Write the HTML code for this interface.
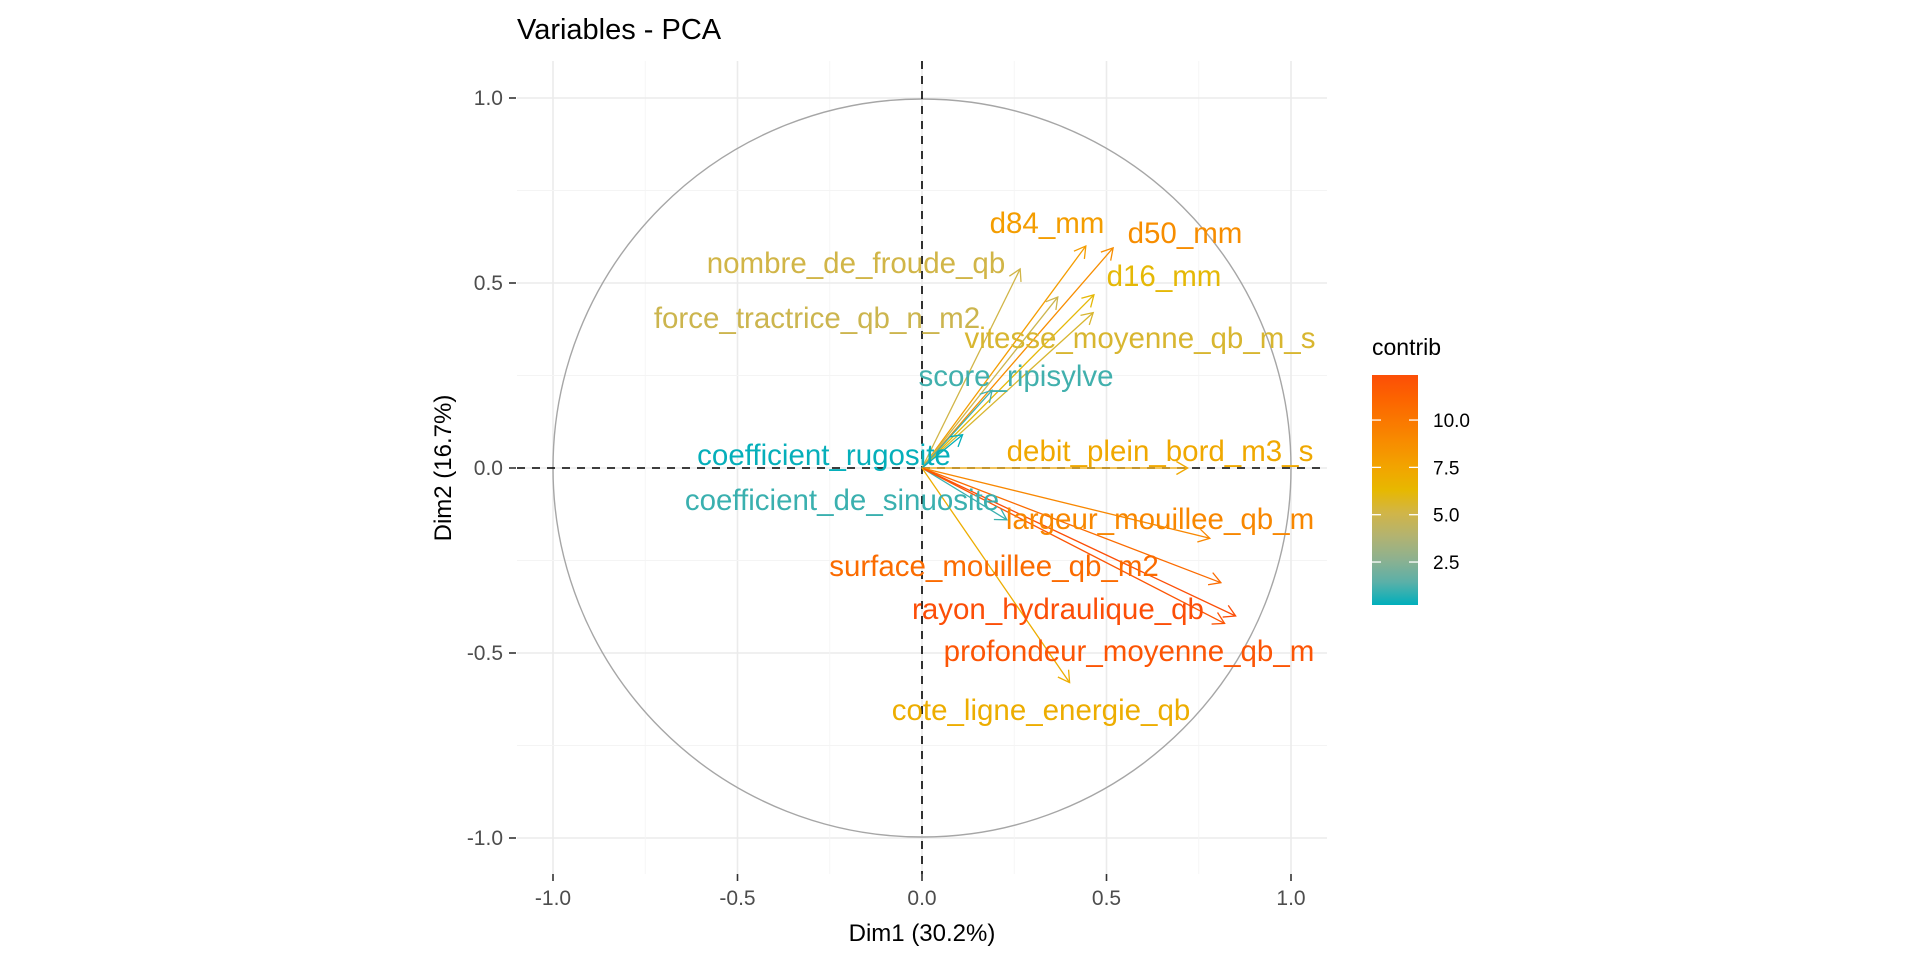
<!DOCTYPE html>
<html><head><meta charset="utf-8"><style>
html,body{margin:0;padding:0;background:#fff;}
svg{display:block;font-family:"Liberation Sans",Arial,sans-serif;}
</style></head><body>
<svg id="chart" width="1920" height="960" viewBox="0 0 1920 960"></svg>
<script>
const varNames=["d84_mm","d50_mm","d16_mm","nombre_de_froude_qb","force_tractrice_qb_n_m2","vitesse_moyenne_qb_m_s","score_ripisylve","coefficient_rugosite","debit_plein_bord_m3_s","coefficient_de_sinuosite","largeur_mouillee_qb_m","surface_mouillee_qb_m2","rayon_hydraulique_qb","profondeur_moyenne_qb_m","cote_ligne_energie_qb"];
const dim1=[0.444,0.518,0.466,0.266,0.368,0.464,0.19,0.11,0.72,0.23,0.78,0.81,0.85,0.82,0.40];
const dim2=[0.600,0.595,0.468,0.538,0.462,0.420,0.21,0.09,0.0,-0.14,-0.19,-0.31,-0.40,-0.42,-0.58];
const contrib=[7.9,8.8,6.2,5.1,4.9,5.5,1.1,0.3,7.3,1.0,9.1,10.7,12.5,12.0,7.0];
const labelX=[1047,1185,1164,856,817,1140,1016,824,1160,842,1160,994,1058,1129,1041];
const labelY=[223,233,276,263,318,338,376,455,451,500,519,566,609,651,710];
const axisTicks=[-1.0,-0.5,0.0,0.5,1.0];
const tickLabels=["-1.0","-0.5","0.0","0.5","1.0"];
const legendTicks=[2.5,5.0,7.5,10.0];
const legendTickLabels=["2.5","5.0","7.5","10.0"];
const cMin=0.23,cMax=12.38;

const NS="http://www.w3.org/2000/svg";
const svg=document.getElementById('chart');
const X0=922,Y0=468,SX=369,SY=370;
const panel={l:517,r:1327,t:61,b:874};
function sx(v){return X0+v*SX;}
function sy(v){return Y0-v*SY;}
function mk(tag,attrs,parent){const e=document.createElementNS(NS,tag);for(const k in attrs)e.setAttribute(k,attrs[k]);(parent||svg).appendChild(e);return e;}
function hex(h){return [parseInt(h.slice(1,3),16),parseInt(h.slice(3,5),16),parseInt(h.slice(5,7),16)];}
const gradStops=["#00AFBB","#5BB0A8","#8EB18F","#B3B370","#D1B548","#E7B800","#F2A400","#F78E00","#FA7800","#FC6300","#FC4E07"].map(hex);
function col(v){let t=(v-cMin)/(cMax-cMin);t=Math.max(0,Math.min(1,t));
 const n=gradStops.length-1;let k=Math.min(n-1,Math.floor(t*n));const u=t*n-k;const a=gradStops[k],b=gradStops[k+1];
 return "rgb("+a.map((x,i)=>Math.round(x+(b[i]-x)*u)).join(",")+")";}

const grid=mk('g',{});


for(let v=-1;v<=1.001;v+=0.25){
 const major=Math.abs(v*2-Math.round(v*2))<1e-6;
 mk('line',{x1:sx(v),x2:sx(v),y1:panel.t,y2:panel.b,stroke:major?"#ebebeb":"#f4f4f4","stroke-width":major?1.6:0.9},grid);
 mk('line',{x1:panel.l,x2:panel.r,y1:sy(v),y2:sy(v),stroke:major?"#ebebeb":"#f4f4f4","stroke-width":major?1.6:0.9},grid);
}
const circ=mk('circle',{cx:sx(0),cy:sy(0),r:SX,fill:"none",stroke:"#a6a6a6","stroke-width":1.4});


const hz=mk('line',{x1:panel.l,x2:panel.r,y1:sy(0),y2:sy(0),stroke:"#000","stroke-width":1.6,"stroke-dasharray":"8,7"});


const vt=mk('line',{x1:sx(0),x2:sx(0),y1:panel.t,y2:panel.b,stroke:"#000","stroke-width":1.6,"stroke-dasharray":"8,7"});



for(let i=0;i<varNames.length;i++){
 const c=col(contrib[i]);
 const g=mk('g',{});
 
 
 const x2=sx(dim1[i]),y2=sy(dim2[i]);
 mk('line',{x1:sx(0),y1:sy(0),x2:x2,y2:y2,stroke:c,"stroke-width":1.3},g);
 const ang=Math.atan2(y2-sy(0),x2-sx(0)),L=13,w=Math.PI/6;
 const p1=[x2-L*Math.cos(ang-w),y2-L*Math.sin(ang-w)],p2=[x2-L*Math.cos(ang+w),y2-L*Math.sin(ang+w)];
 mk('polyline',{points:p1.join(",")+" "+x2+","+y2+" "+p2.join(","),fill:"none",stroke:c,"stroke-width":1.3},g);
}
for(let i=0;i<varNames.length;i++){
 const t=mk('text',{x:labelX[i],y:labelY[i]+10,"text-anchor":"middle","font-size":29.5,fill:col(contrib[i])});
 t.textContent=varNames[i];
 
 
}
for(let i=0;i<axisTicks.length;i++){
 const v=axisTicks[i];
 mk('line',{x1:sx(v),x2:sx(v),y1:panel.b,y2:panel.b+7,stroke:"#333","stroke-width":1.6});
 const tx=mk('text',{x:sx(v),y:905,"text-anchor":"middle","font-size":21,fill:"#4d4d4d"});
 tx.textContent=tickLabels[i];
 
 
 mk('line',{x1:panel.l-8,x2:panel.l-1,y1:sy(v),y2:sy(v),stroke:"#333","stroke-width":1.6});
 const ty=mk('text',{x:503,y:sy(v)+7,"text-anchor":"end","font-size":21,fill:"#4d4d4d"});
 ty.textContent=tickLabels[i];
 
 
}
const xt=mk('text',{x:922,y:941,"text-anchor":"middle","font-size":24,fill:"#000"});
xt.textContent="Dim1 (30.2%)";


const yt=mk('text',{x:0,y:0,"text-anchor":"middle","font-size":24,fill:"#000",transform:"translate(451,468) rotate(-90)"});
yt.textContent="Dim2 (16.7%)";


const ti=mk('text',{x:517,y:39,"font-size":29,fill:"#000"});
ti.textContent="Variables - PCA";



const lg=mk('g',{});


const defs=mk('defs',{});
const grad=mk('linearGradient',{id:"cg",x1:0,y1:1,x2:0,y2:0},defs);
gradStops.forEach((s,i)=>mk('stop',{offset:String(i/(gradStops.length-1)),"stop-color":"rgb("+s.join(",")+")"},grad));
const lt=mk('text',{x:1372,y:355,"font-size":23,fill:"#000"},lg);
lt.textContent="contrib";
const LB={x:1372,w:46,t:375,b:605};
mk('rect',{x:LB.x,y:LB.t,width:LB.w,height:LB.b-LB.t,fill:"url(#cg)"},lg);
function ly(v){return LB.b-(v-cMin)/(cMax-cMin)*(LB.b-LB.t);}
for(let i=0;i<legendTicks.length;i++){
 const y=ly(legendTicks[i]);
 mk('line',{x1:LB.x,x2:LB.x+9,y1:y,y2:y,stroke:"#fff","stroke-width":1.3},lg);
 mk('line',{x1:LB.x+LB.w-9,x2:LB.x+LB.w,y1:y,y2:y,stroke:"#fff","stroke-width":1.3},lg);
 const t=mk('text',{x:1433,y:y+7,"font-size":19,fill:"#000"},lg);
 t.textContent=legendTickLabels[i];
 
 
}
</script>
</body></html>
